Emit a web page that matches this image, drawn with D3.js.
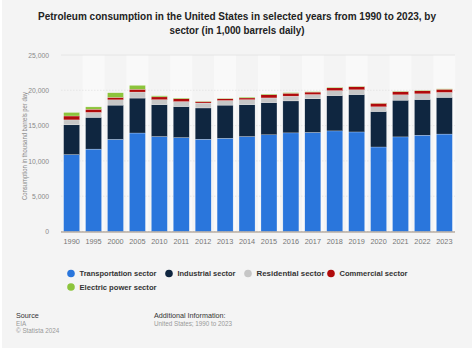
<!DOCTYPE html>
<html><head><meta charset="utf-8">
<script src="https://cdn.jsdelivr.net/npm/d3@7"></script>
<style>
html,body{margin:0;padding:0;background:#fff;}
svg{display:block;font-family:"Liberation Sans",Arial,sans-serif;}
</style></head>
<body><svg id="c" width="474" height="352"></svg>
<script>
const years = ["1990","1995","2000","2005","2010","2011","2012","2013","2014","2015","2016","2017","2018","2019","2020","2021","2022","2023"];
const transportation = [10890,11670,13050,13950,13450,13300,13070,13200,13450,13700,13970,14030,14250,14100,11970,13400,13640,13800];
const industrial = [4220,4500,4850,4950,4520,4400,4430,4700,4520,4560,4530,4770,5000,5300,5030,5200,5060,5200];
const residential = [700,700,750,850,700,700,700,650,700,660,670,600,700,670,660,760,800,700];
const commercial = [550,450,350,400,400,400,200,250,250,450,420,350,400,430,500,450,430,450];
const electric = [500,330,650,550,150,100,50,50,120,100,80,60,100,60,50,60,60,60];
const yTicks = [0,5000,10000,15000,20000,25000];
const seriesNames = ["Transportation sector","Industrial sector","Residential sector","Commercial sector","Electric power sector"];
const seriesColors = ["#2a76dc","#0f2640","#c6c6c6","#b00b0b","#8cc43c"];

const svg = d3.select("#c");
svg.append("rect").attr("x",2).attr("y",0).attr("width",470).attr("height",348).attr("fill","#f4f4f4");

svg.append("text").attr("x",237).attr("y",20).attr("text-anchor","middle")
  .attr("font-size",10.4).attr("font-weight","bold").attr("fill","#222")
  .attr("textLength",398).attr("lengthAdjust","spacingAndGlyphs")
  .text("Petroleum consumption in the United States in selected years from 1990 to 2023, by");
svg.append("text").attr("x",237).attr("y",33.5).attr("text-anchor","middle")
  .attr("font-size",10.4).attr("font-weight","bold").attr("fill","#222")
  .attr("textLength",135).attr("lengthAdjust","spacingAndGlyphs")
  .text("sector (in 1,000 barrels daily)");

const m = {l:61, r:455, t:55, b:231.5};
const x = d3.scaleBand().domain(years).range([m.l,m.r]).paddingInner(0.27).paddingOuter(0.12);
const y = d3.scaleLinear().domain([0,25000]).range([m.b,m.t]);

// alternating column stripes
const step = x.step();
svg.append("g").selectAll("rect").data(years.filter((d,i)=>i%2===1)).join("rect")
  .attr("x",d=>x(d)+x.bandwidth()/2-step/2).attr("y",m.t).attr("width",step).attr("height",m.b-m.t)
  .attr("fill","#f9f9f9");

// grid
svg.append("g").selectAll("line").data(yTicks).join("line")
  .attr("x1",m.l).attr("x2",m.r).attr("y1",d=>y(d)).attr("y2",d=>y(d))
  .attr("stroke","#e2e2e2").attr("stroke-width",0.8).attr("stroke-dasharray",d=>d===25000?null:"1.5,1.5");

const yAxis = d3.axisLeft(y).tickValues(yTicks).tickSize(0).tickFormat(d3.format(","));
const gy = svg.append("g").attr("transform",`translate(${m.l-9},0)`).call(yAxis);
gy.select(".domain").remove();
gy.selectAll("text").attr("font-size",6.8).attr("fill","#8a8a8a").attr("font-family","Liberation Sans, Arial, sans-serif");

svg.append("text").attr("transform","translate(27,146) rotate(-90)").attr("text-anchor","middle")
  .attr("font-size",6.6).attr("fill","#8a8a8a")
  .attr("textLength",108).attr("lengthAdjust","spacingAndGlyphs")
  .text("Consumption in thousand barrels per day");

const rows = years.map((yr,i)=>({year:yr, t:transportation[i], ind:industrial[i], r:residential[i], c:commercial[i], e:electric[i]}));
const stack = d3.stack().keys(["t","ind","r","c","e"])(rows);
svg.append("g").selectAll("g").data(stack).join("g").attr("fill",(d,i)=>seriesColors[i])
  .selectAll("rect").data(d=>d).join("rect")
  .attr("x",d=>x(d.data.year)).attr("width",x.bandwidth())
  .attr("y",d=>y(d[1])).attr("height",d=>y(d[0])-y(d[1]))
  .attr("stroke","#ffffff").attr("stroke-width",0.4).attr("stroke-opacity",0.6);

svg.append("line").attr("x1",m.l).attr("x2",m.r).attr("y1",m.b+0.5).attr("y2",m.b+0.5)
  .attr("stroke","#9c8c7c").attr("stroke-width",1);

const xAxis = d3.axisBottom(x).tickSize(0).tickPadding(7);
const gx = svg.append("g").attr("transform",`translate(0,${m.b})`).call(xAxis);
gx.select(".domain").remove();
gx.selectAll("text").attr("font-size",7.3).attr("fill","#777").attr("font-family","Liberation Sans, Arial, sans-serif");

// legend
const legPos = [[71,273.5],[169,273.5],[248,273.5],[331,273.5],[71,287]];
const legLen = [77,58,68,68,77];
const leg = svg.append("g").selectAll("g").data(seriesNames).join("g")
  .attr("transform",(d,i)=>`translate(${legPos[i][0]},${legPos[i][1]})`);
leg.append("circle").attr("r",3.8).attr("fill",(d,i)=>seriesColors[i]);
leg.append("text").attr("x",8.5).attr("y",2.9).attr("font-size",8).attr("font-weight","bold").attr("fill","#333")
  .attr("textLength",(d,i)=>legLen[i]).attr("lengthAdjust","spacingAndGlyphs").text(d=>d);

// footer
const ft = svg.append("g");
ft.append("text").attr("x",16).attr("y",318).attr("font-size",7.2).attr("fill","#333").text("Source");
ft.append("text").attr("x",16).attr("y",325.5).attr("font-size",6.3).attr("fill","#999").text("EIA");
ft.append("text").attr("x",16).attr("y",333).attr("font-size",6.3).attr("fill","#999").text("© Statista 2024");
ft.append("text").attr("x",154).attr("y",318).attr("font-size",7.2).attr("fill","#333").text("Additional Information:");
ft.append("text").attr("x",154).attr("y",325.5).attr("font-size",6.3).attr("fill","#999").text("United States; 1990 to 2023");
</script></body></html>
